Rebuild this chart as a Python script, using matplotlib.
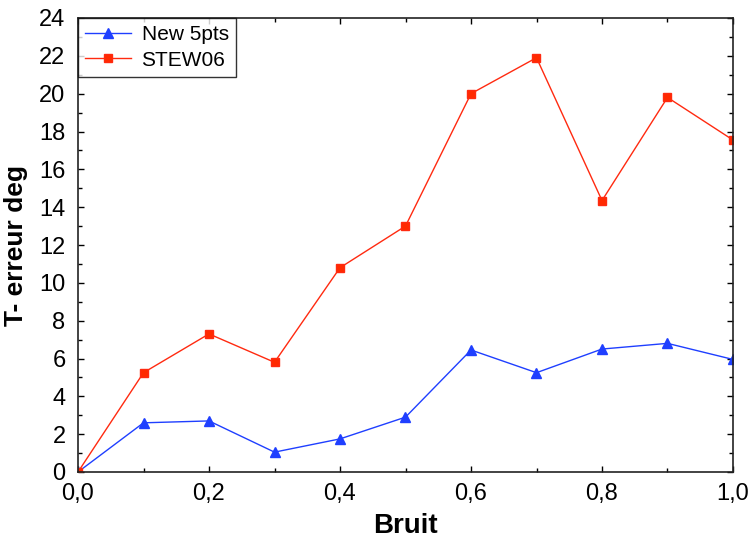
"""Courbe de T-erreur en fonction du bruit."""
import matplotlib
matplotlib.use("Agg")
import matplotlib.pyplot as plt
from matplotlib.ticker import MultipleLocator, FuncFormatter

# Donnees
bruit = [0.0, 0.1, 0.2, 0.3, 0.4, 0.5, 0.6, 0.7, 0.8, 0.9, 1.0]
new_5pts = [0.0, 2.6, 2.7, 1.05, 1.75, 2.9, 6.45, 5.25, 6.5, 6.8, 5.95]
stew06 = [0.0, 5.25, 7.3, 5.8, 10.8, 13.0, 20.0, 21.9, 14.35, 19.8, 17.55]

plt.rcParams['font.family'] = ['Liberation Sans', 'DejaVu Sans']

fig = plt.figure(figsize=(7.48, 5.44), dpi=100)
ax = fig.add_axes([78 / 748, 72 / 544, 655 / 748, 454 / 544])

ax.plot(bruit, new_5pts, color='#1f3fff', lw=1, marker='^', ms=7,
        label='New 5pts')
ax.plot(bruit, stew06, color='#ff2a10', lw=1, marker='s', ms=6,
        mfc='#ff2a00', label='STEW06')

ax.set_xlim(0, 1)
ax.set_ylim(0, 24)
ax.xaxis.set_major_locator(MultipleLocator(0.2))
ax.xaxis.set_minor_locator(MultipleLocator(0.1))
ax.yaxis.set_major_locator(MultipleLocator(2))
ax.yaxis.set_minor_locator(MultipleLocator(1))
ax.xaxis.set_major_formatter(FuncFormatter(lambda v, p: f"{v:.1f}".replace('.', ',')))

ax.tick_params(which='both', direction='in', top=True, right=True,
               labelsize=17, width=1)
ax.tick_params(which='major', length=4)
ax.tick_params(axis='x', which='major', pad=8)
ax.tick_params(axis='y', which='major', pad=9)
ax.tick_params(which='minor', length=3)
for s in ax.spines.values():
    s.set_linewidth(1.2)
    s.set_color('#222222')

ax.set_xlabel('Bruit', fontsize=20, fontweight='bold', labelpad=6)
ax.set_ylabel('T- erreur deg', fontsize=19, fontweight='bold', labelpad=8)

leg = ax.legend(loc='upper left', fontsize=15, frameon=True, fancybox=False,
                borderaxespad=0, handlelength=2.2, handletextpad=0.5,
                borderpad=0.35, labelspacing=0.3)
leg.get_frame().set_edgecolor('black')
leg.get_frame().set_linewidth(1)

fig.savefig('out.png', dpi=100)
